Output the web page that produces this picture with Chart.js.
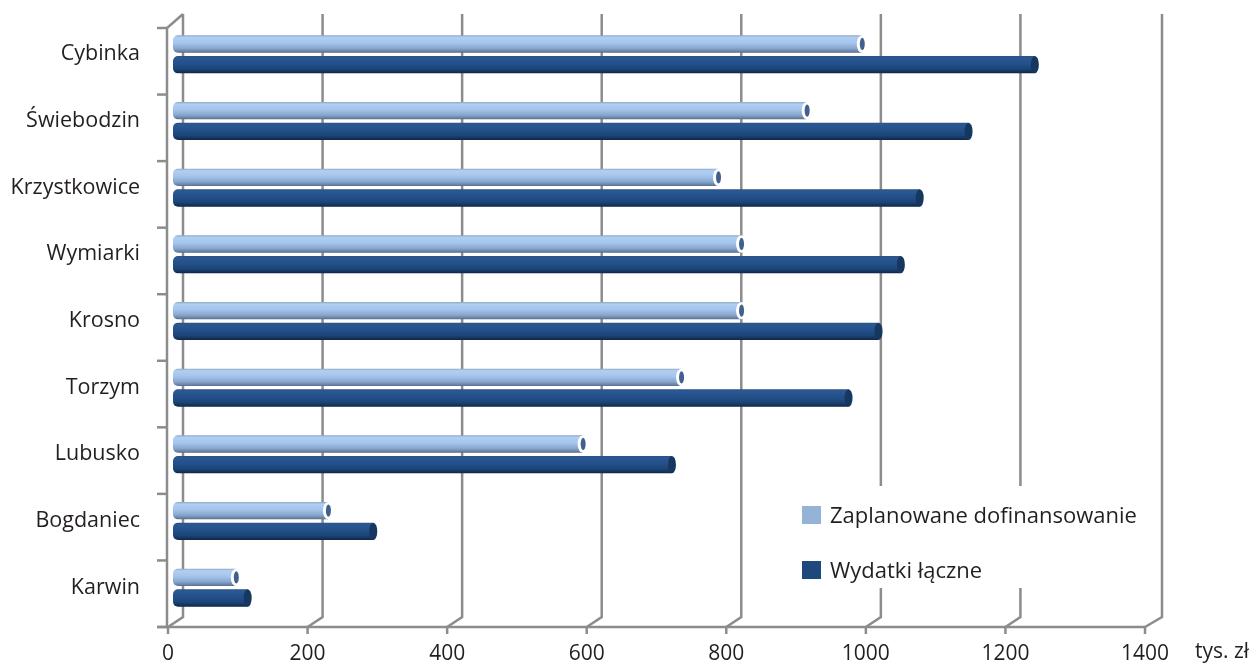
<!DOCTYPE html>
<html>
<head>
<meta charset="utf-8">
<script src="https://cdn.jsdelivr.net/npm/chart.js@4.4.1/dist/chart.umd.min.js"></script>
<style>
  html, body { margin: 0; padding: 0; background: #ffffff; }
  #wrap { width: 1252px; height: 664px; }
</style>
</head>
<body>
<div id="wrap"><canvas id="chart" width="1252" height="664"></canvas></div>
<script>
// Gminy (top to bottom)
const categories = ['Cybinka', 'Świebodzin', 'Krzystkowice', 'Wymiarki', 'Krosno', 'Torzym', 'Lubusko', 'Bogdaniec', 'Karwin'];
// Zaplanowane dofinansowanie, tys. zł
const planned = [987, 908, 781, 814, 814, 728, 587, 222, 90];
// Wydatki łączne, tys. zł
const totalSpend = [1235, 1140, 1070, 1043, 1011, 968, 715, 287, 107];
// Axis ticks
const xTicks = [0, 200, 400, 600, 800, 1000, 1200, 1400];
const seriesNames = ['Zaplanowane dofinansowanie', 'Wydatki łączne'];
const unitLabel = 'tys. zł';

const FONT = '"Open Sans", "Liberation Sans", sans-serif';
const TEXT = '#231f20';
const FRAME = '#8c8c8c';
const LIGHT = '#95b3d7';
const DARK = '#1f497d';

// 3D frame geometry relative to the plotting scales
const FRONT_DX = -5, BACK_DX = 10;

function lightGradient(ctx, top, bottom) {
  const g = ctx.createLinearGradient(0, top, 0, bottom);
  g.addColorStop(0, '#8ea7c6');
  g.addColorStop(0.12, '#b0cff3');
  g.addColorStop(0.45, '#a4c4ec');
  g.addColorStop(0.75, '#88a6ce');
  g.addColorStop(0.92, '#6a83a6');
  g.addColorStop(1, '#56698a');
  return g;
}
function darkGradient(ctx, top, bottom) {
  const g = ctx.createLinearGradient(0, top, 0, bottom);
  g.addColorStop(0, '#2d5283');
  g.addColorStop(0.12, '#2a5893');
  g.addColorStop(0.45, '#23508a');
  g.addColorStop(0.75, '#1c4476');
  g.addColorStop(0.92, '#143158');
  g.addColorStop(1, '#0d2344');
  return g;
}

const frame3d = {
  id: 'frame3d',
  beforeDatasetsDraw(chart) {
    const { ctx, chartArea: a, scales } = chart;
    const xs = scales.x;
    const frontTop = a.top + 7, frontBottom = a.bottom + 6;
    const backTop = a.top - 7, backBottom = a.bottom - 4;
    ctx.save();
    ctx.strokeStyle = FRAME;
    ctx.lineWidth = 2.5;
    ctx.lineCap = 'butt';
    // back wall gridlines with floor diagonals
    xTicks.forEach(v => {
      const p = xs.getPixelForValue(v);
      const bx = p + BACK_DX + (v === xTicks[xTicks.length - 1] ? 2 : 0);
      const fx = p + FRONT_DX;
      ctx.beginPath();
      ctx.moveTo(bx, backTop);
      ctx.lineTo(bx, backBottom);
      ctx.lineTo(fx, frontBottom);
      ctx.stroke();
      // tick mark below the floor edge
      ctx.beginPath();
      ctx.moveTo(fx, frontBottom);
      ctx.lineTo(fx, frontBottom + 7);
      ctx.stroke();
    });
    // front floor edge
    const leftX = xs.getPixelForValue(0) + FRONT_DX - 1;
    ctx.beginPath();
    ctx.moveTo(leftX - 10, frontBottom);
    ctx.lineTo(xs.getPixelForValue(xTicks[xTicks.length - 1]) + FRONT_DX, frontBottom);
    ctx.stroke();
    // left wall edge
    ctx.beginPath();
    ctx.moveTo(xs.getPixelForValue(0) + BACK_DX, backTop);
    ctx.lineTo(leftX, frontTop);
    ctx.lineTo(leftX, frontBottom);
    ctx.stroke();
    // category tick marks
    const n = categories.length;
    for (let i = 0; i <= n; i++) {
      const y = frontTop + (frontBottom - frontTop) * i / n;
      ctx.beginPath();
      ctx.moveTo(leftX - 10, y);
      ctx.lineTo(leftX, y);
      ctx.stroke();
    }
    // legend background covers the wall
    ctx.fillStyle = '#ffffff';
    ctx.fillRect(795, 486, 345, 102);
    ctx.restore();

    // cylinder shading for every bar
    chart.data.datasets.forEach((ds, di) => {
      const meta = chart.getDatasetMeta(di);
      meta.data.forEach(el => {
        const h = el.height;
        const top = el.y - h / 2, bottom = el.y + h / 2;
        const g = di === 0 ? lightGradient(ctx, top, bottom) : darkGradient(ctx, top, bottom);
        el.options = Object.assign({}, el.options, { backgroundColor: g });
      });
    });
  },
  afterDatasetsDraw(chart) {
    const { ctx } = chart;
    ctx.save();
    chart.data.datasets.forEach((ds, di) => {
      const meta = chart.getDatasetMeta(di);
      meta.data.forEach(el => {
        const ry = el.height / 2;
        if (di === 0) {
          ctx.beginPath();
          ctx.ellipse(el.x, el.y, 5, ry, 0, 0, Math.PI * 2);
          ctx.fillStyle = '#ffffff';
          ctx.fill();
          ctx.beginPath();
          ctx.ellipse(el.x + 0.5, el.y, 2.5, ry - 2.5, 0, 0, Math.PI * 2);
          ctx.fillStyle = '#40618f';
          ctx.fill();
        } else {
          ctx.beginPath();
          ctx.ellipse(el.x, el.y, 4, ry, 0, 0, Math.PI * 2);
          ctx.fillStyle = '#163760';
          ctx.fill();
        }
      });
    });
    ctx.restore();
  },
  afterDraw(chart) {
    const { ctx } = chart;
    ctx.save();
    // legend
    ctx.font = '22px ' + FONT;
    ctx.textBaseline = 'middle';
    ctx.textAlign = 'left';
    const rows = [515, 570];
    [LIGHT, DARK].forEach((c, i) => {
      ctx.fillStyle = c;
      ctx.fillRect(802, rows[i] - 9, 19, 18);
      ctx.fillStyle = TEXT;
      ctx.fillText(seriesNames[i], 830, rows[i] + 2);
    });
    // unit next to the last tick label
    ctx.font = '21px ' + FONT;
    ctx.textBaseline = 'middle';
    ctx.fillText(unitLabel, 1195, 652);
    ctx.restore();
  }
};

new Chart(document.getElementById('chart'), {
  type: 'bar',
  data: {
    labels: categories,
    datasets: [
      { label: seriesNames[0], data: planned, backgroundColor: LIGHT },
      { label: seriesNames[1], data: totalSpend, backgroundColor: DARK }
    ]
  },
  options: {
    indexAxis: 'y',
    responsive: false,
    devicePixelRatio: 1,
    animation: false,
    layout: { padding: { top: 21, right: 102, bottom: 0, left: 0 } },
    datasets: {
      bar: {
        categoryPercentage: 0.62,
        barPercentage: 0.84,
        borderRadius: { topLeft: 5, bottomLeft: 5, topRight: 0, bottomRight: 0 },
        borderSkipped: false,
        borderWidth: 0
      }
    },
    plugins: {
      legend: { display: false },
      tooltip: { enabled: false }
    },
    scales: {
      x: {
        min: 0,
        max: 1400,
        afterBuildTicks(scale) { scale.ticks = xTicks.map(v => ({ value: v })); },
        afterFit(scale) { scale.height = 43; },
        grid: { display: false, drawTicks: false },
        border: { display: false },
        ticks: {
          labelOffset: FRONT_DX,
          padding: 20,
          color: TEXT,
          font: { family: FONT, size: 21 },
          maxRotation: 0,
          callback: v => String(v)
        }
      },
      y: {
        afterFit(scale) {
          scale.width = 173;
          scale.paddingTop = 0;
          scale.paddingBottom = 0;
        },
        grid: { display: false, drawTicks: false },
        border: { display: false },
        ticks: {
          padding: 33,
          color: TEXT,
          font: { family: FONT, size: 21.5 }
        }
      }
    }
  },
  plugins: [frame3d]
});
</script>
</body>
</html>
